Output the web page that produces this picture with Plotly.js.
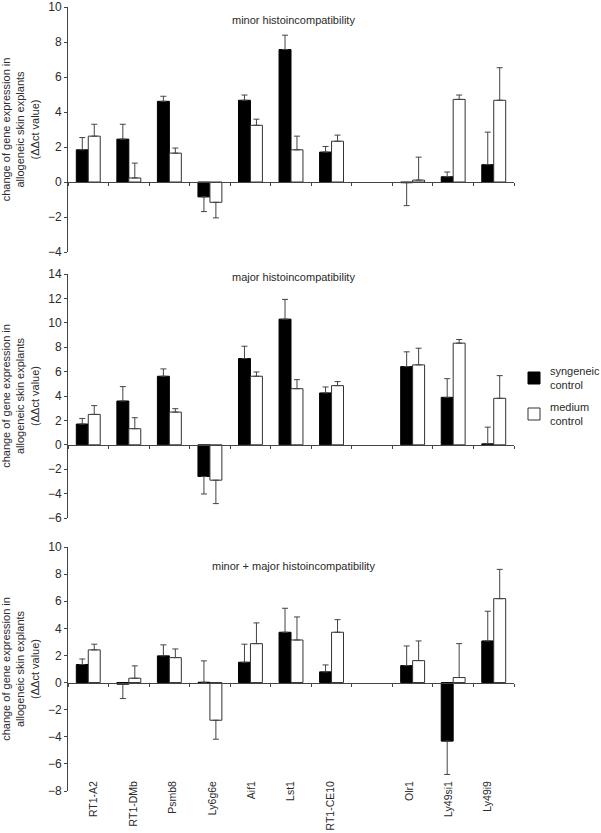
<!DOCTYPE html>
<html><head><meta charset="utf-8">
<script src="https://cdn.plot.ly/plotly-3.0.1.min.js"></script>
<style>html,body{margin:0;padding:0;background:#fff}#chart{width:601px;height:833px}</style>
</head><body><div id="chart"></div>
<script>
// categories (blank slot between RT1-CE10 and Olr1 as in the original)
const genes = ['RT1-A2','RT1-DMb','Psmb8','Ly6g6e','Aif1','Lst1','RT1-CE10',' ','Olr1','Ly49si1','Ly49i9'];
const panelTitles = ['minor histoincompatibility','major histoincompatibility','minor + major histoincompatibility'];
const seriesNames = ['syngeneic<br>control','medium<br>control'];
const yTitle = 'change of gene expression in<br>allogeneic skin explants<br>(\u0394\u0394ct value)';
const yRanges = [[-4,10],[-6,14],[-8,10]];

// minor histoincompatibility
const minorSyngeneic    = [1.84,2.45,4.61,-0.85,4.67,7.57,1.71,null,-0.04,0.30,0.99];
const minorSyngeneicErr = [0.70,0.85,0.29,0.84,0.30,0.82,0.32,null,1.31,0.27,1.86];
const minorMedium       = [2.62,0.23,1.65,-1.16,3.24,1.84,2.33,null,0.11,4.72,4.67];
const minorMediumErr    = [0.68,0.85,0.29,0.89,0.35,0.78,0.35,null,1.31,0.25,1.86];
// major histoincompatibility
const majorSyngeneic    = [1.70,3.59,5.62,-2.60,7.07,10.30,4.25,null,6.41,3.89,0.08];
const majorSyngeneicErr = [0.46,1.18,0.60,1.43,1.01,1.62,0.49,null,1.21,1.53,1.37];
const majorMedium       = [2.49,1.32,2.68,-2.90,5.62,4.60,4.85,null,6.55,8.33,3.81];
const majorMediumErr    = [0.72,0.90,0.28,1.92,0.35,0.74,0.33,null,1.37,0.30,1.86];
// minor + major histoincompatibility
const bothSyngeneic     = [1.33,-0.12,1.97,0.02,1.50,3.71,0.79,null,1.25,-4.32,3.07];
const bothSyngeneicErr  = [0.41,1.06,0.81,1.58,1.33,1.77,0.51,null,1.45,2.46,2.19];
const bothMedium        = [2.41,0.32,1.84,-2.78,2.87,3.14,3.71,null,1.62,0.37,6.19];
const bothMediumErr     = [0.42,0.91,0.64,1.40,1.53,1.70,0.93,null,1.45,2.50,2.16];

const panels = [
  [minorSyngeneic, minorSyngeneicErr, minorMedium, minorMediumErr],
  [majorSyngeneic, majorSyngeneicErr, majorMedium, majorMediumErr],
  [bothSyngeneic, bothSyngeneicErr, bothMedium, bothMediumErr]
];

const fills = ['#000000', '#ffffff'];
const outlines = ['#000000', '#333333'];
const axisColor = '#444444';
const textColor = '#2a2a2a';

function errPlus(v, e)  { return v.map((y,i) => (y === null ? null : (y >= 0 ? e[i] : 0))); }
function errMinus(v, e) { return v.map((y,i) => (y === null ? null : (y < 0 ? e[i] : 0))); }

const traces = [];
panels.forEach((p, k) => {
  const xa = k === 0 ? 'x' : 'x' + (k + 1);
  const ya = k === 0 ? 'y' : 'y' + (k + 1);
  [0, 1].forEach(s => {
    const vals = p[s * 2], errs = p[s * 2 + 1];
    traces.push({
      type: 'bar', x: genes, y: vals, xaxis: xa, yaxis: ya,
      name: seriesNames[s].replace('<br>', ' '), showlegend: false,
      marker: {color: fills[s], line: {color: outlines[s], width: 1}},
      error_y: {type: 'data', symmetric: false, array: errPlus(vals, errs), arrayminus: errMinus(vals, errs),
                color: axisColor, thickness: 1, width: 3},
      hoverinfo: 'x+y'
    });
  });
});
// invisible carrier trace for the bottom category labels
traces.push({type: 'scatter', mode: 'markers', x: genes, y: genes.map(() => null),
  xaxis: 'x4', yaxis: 'y3', showlegend: false, hoverinfo: 'skip', marker: {opacity: 0}});

const H = 833, T = 7, B = 42, L = 68, R = 87, W = 601;
const plotH = H - T - B, plotW = W - L - R;
function dom(topPx, botPx) { return [(H - B - botPx) / plotH, (H - B - topPx) / plotH]; }
function px2x(px) { return (px - L) / plotW; }
function px2y(py) { return (H - B - py) / plotH; }
const domains = [dom(7, 252), dom(274, 518), dom(547, 791)];
function zeroPos(k) {
  const r = yRanges[k], d = domains[k];
  return d[0] + (0 - r[0]) / (r[1] - r[0]) * (d[1] - d[0]);
}

const font = {family: '"Liberation Sans", Arial, sans-serif', size: 11, color: textColor};
const layout = {
  width: W, height: H,
  margin: {l: L, r: R, t: T, b: B},
  paper_bgcolor: '#fff', plot_bgcolor: 'rgba(0,0,0,0)',
  font: font,
  barmode: 'group', bargap: 0.41, bargroupgap: 0,
  showlegend: false,
  annotations: [],
  shapes: [],
  hovermode: 'closest'
};
[0, 1, 2].forEach(k => {
  const sfx = k === 0 ? '' : String(k + 1);
  layout['xaxis' + sfx] = {
    type: 'category', categoryorder: 'array', categoryarray: genes,
    anchor: 'free', position: zeroPos(k),
    showline: true, linecolor: axisColor, linewidth: 1,
    ticks: 'outside', tickson: 'boundaries', ticklen: 3, tickcolor: axisColor,
    showticklabels: false, showgrid: false, zeroline: false, fixedrange: true
  };
  layout['yaxis' + sfx] = {
    domain: domains[k], anchor: k === 0 ? 'x' : 'x' + (k + 1),
    range: yRanges[k], dtick: 2, tick0: 0,
    showline: true, linecolor: axisColor, linewidth: 1,
    ticks: 'outside', ticklen: 3, tickcolor: axisColor,
    showgrid: false, zeroline: false, tickfont: {size: 12, color: textColor},
    title: {text: yTitle, font: {size: 11, color: textColor}, standoff: 12}
  };
  layout.annotations.push({
    text: panelTitles[k], xref: 'paper', yref: 'paper',
    x: px2x(293), y: [px2y(20), px2y(277), px2y(566)][k], xanchor: 'center', yanchor: 'middle',
    showarrow: false, font: {size: 11, color: textColor}
  });
});
layout.xaxis4 = {
  type: 'category', categoryorder: 'array', categoryarray: genes,
  overlaying: 'x3', anchor: 'free', position: px2y(778), side: 'bottom',
  showline: false, ticks: '', showgrid: false, zeroline: false,
  tickangle: -90, tickfont: {size: 10.5, color: textColor}
};

// legend (drawn beside the middle panel as in the original)
const legendRows = [{top: 372, bottom: 384}, {top: 408, bottom: 420}];
legendRows.forEach((row, s) => {
  layout.shapes.push({
    type: 'rect', xref: 'paper', yref: 'paper',
    x0: px2x(528), x1: px2x(540), y0: px2y(row.bottom), y1: px2y(row.top),
    fillcolor: fills[s], line: {color: outlines[s], width: 1}
  });
  layout.annotations.push({
    text: seriesNames[s], xref: 'paper', yref: 'paper',
    x: px2x(548), y: px2y((row.top + row.bottom) / 2), xanchor: 'left', yanchor: 'middle',
    align: 'left', showarrow: false, font: {size: 11, color: textColor}
  });
});

Plotly.newPlot('chart', traces, layout, {staticPlot: true});
</script></body></html>
